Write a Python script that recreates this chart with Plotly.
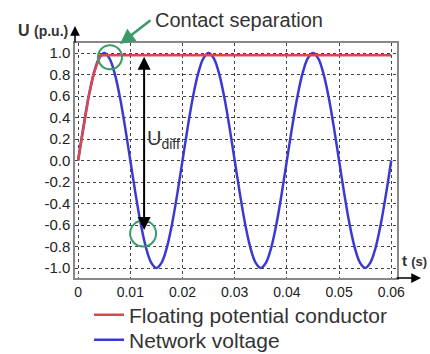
import plotly.graph_objects as go

# Network voltage samples (every 1 ms)
t_net = [i * 0.001 for i in range(61)]
u_net = [0.0, 0.31, 0.59, 0.81, 0.95, 1.0, 0.95, 0.81, 0.59, 0.31,
         0.0, -0.31, -0.59, -0.81, -0.95, -1.0, -0.95, -0.81, -0.59, -0.31,
         0.0, 0.31, 0.59, 0.81, 0.95, 1.0, 0.95, 0.81, 0.59, 0.31,
         0.0, -0.31, -0.59, -0.81, -0.95, -1.0, -0.95, -0.81, -0.59, -0.31,
         0.0, 0.31, 0.59, 0.81, 0.95, 1.0, 0.95, 0.81, 0.59, 0.31,
         0.0, -0.31, -0.59, -0.81, -0.95, -1.0, -0.95, -0.81, -0.59, -0.31,
         0.0]

# Floating potential conductor
t_float = [0.0, 0.001, 0.002, 0.003, 0.0036, 0.0042, 0.0050, 0.06]
u_float = [0.0, 0.31, 0.59, 0.81, 0.90, 0.975, 0.98, 0.98]

x_ticks = [0, 0.01, 0.02, 0.03, 0.04, 0.05, 0.06]
x_labels = ["0", "0.01", "0.02", "0.03", "0.04", "0.05", "0.06"]
y_ticks = [1.0, 0.8, 0.6, 0.4, 0.2, 0.0, -0.2, -0.4, -0.6, -0.8, -1.0]
y_labels = ["1.0", "0.8", "0.6", "0.4", "0.2", "0.0", "-0.2", "-0.4", "-0.6", "-0.8", "-1.0"]

W, H = 430, 354
L, R, T, B = 75, 397, 43, 278  # plot area pixel edges


def px(x):
    return (x - L) / (R - L)


def py(y):
    return (B - y) / (B - T)


fig = go.Figure()
fig.add_trace(go.Scatter(x=t_net, y=u_net, mode="lines", name="Network voltage", legend="legend2",
                         line=dict(color="#3a3ad0", width=2.5, shape="spline", smoothing=1.0)))
fig.add_trace(go.Scatter(x=t_float, y=u_float, mode="lines", name="Floating potential conductor",
                         legend="legend", line=dict(color="#d64a4e", width=2.5)))

font = "Liberation Sans, Arial, sans-serif"
leg_common = dict(xref="container", yref="container", xanchor="left", yanchor="middle",
                  font=dict(size=21, color="#333333"), bgcolor="rgba(0,0,0,0)", itemwidth=30)
fig.update_layout(
    width=W, height=H,
    margin=dict(l=L, r=W - R, t=T, b=H - B, autoexpand=False),
    paper_bgcolor="white", plot_bgcolor="white",
    font=dict(family=font, color="#333333"),
    showlegend=True,
    legend=dict(x=89 / W, y=1 - 315 / H, **leg_common),
    legend2=dict(x=89 / W, y=1 - 340 / H, **leg_common),
    xaxis=dict(range=[-0.0006, 0.0611], tickvals=x_ticks, ticktext=x_labels,
               showgrid=True, gridcolor="#444444", griddash="dot", gridwidth=1,
               showline=True, linecolor="#888888", linewidth=1.5, mirror=True,
               zeroline=False, ticks="", tickfont=dict(size=14, color="#222222")),
    yaxis=dict(range=[-1.093, 1.093], tickvals=y_ticks, ticktext=y_labels,
               showgrid=True, gridcolor="#444444", griddash="dot", gridwidth=1,
               showline=True, linecolor="#888888", linewidth=1.5, mirror=True,
               zeroline=False, ticks="", tickfont=dict(size=15, color="#222222")),
)

# green circles
for cx, cy, r in [(0.0061, 0.96, 12), (0.01245, -0.68, 13)]:
    fig.add_shape(type="circle", xref="x", yref="y", xsizemode="pixel", ysizemode="pixel",
                  xanchor=cx, yanchor=cy, x0=-r, x1=r, y0=-r, y1=r,
                  line=dict(color="#3a9a6a", width=2))

# U_diff double arrow
fig.add_annotation(x=0.01264, y=0.965, ax=0.01264, ay=-0.66, xref="x", yref="y",
                   axref="x", ayref="y", text="", showarrow=True, arrowhead=2,
                   arrowside="end+start", arrowsize=1.3, arrowwidth=2, arrowcolor="black")
fig.add_annotation(x=0.0129, y=0.20, xref="x", yref="y",
                   text="U<sub><span style='font-size:14px'>diff</span></sub>",
                   showarrow=False, xanchor="left", font=dict(size=20, color="#333333"))

# Contact separation label & green arrow
fig.add_annotation(x=px(120), y=py(44), xref="paper", yref="paper", ax=32, ay=-25, text="",
                   showarrow=True, arrowhead=2, arrowsize=1.2, arrowwidth=2.5, arrowcolor="#3a9a6a")
fig.add_annotation(x=px(153), y=py(20), xref="paper", yref="paper", text="Contact separation",
                   showarrow=False, xanchor="left", yanchor="middle",
                   font=dict(size=20, color="#333333"))

# axis arrows and axis labels
fig.add_annotation(x=0, y=py(26), xref="paper", yref="paper", ax=0, ay=18, text="",
                   showarrow=True, arrowhead=2, arrowsize=1.3, arrowwidth=1.5, arrowcolor="black")
fig.add_annotation(x=px(421), y=0, xref="paper", yref="paper", ax=-26, ay=0, text="",
                   showarrow=True, arrowhead=2, arrowsize=1.3, arrowwidth=1.5, arrowcolor="black")
fig.add_annotation(x=px(70), y=py(30), xref="paper", yref="paper",
                   text="<b>U</b> <b style='font-size:14px'>(p.u.)</b>", showarrow=False,
                   xanchor="right", yanchor="middle", font=dict(size=16, color="#333333"))
fig.add_annotation(x=px(429), y=py(260), xref="paper", yref="paper",
                   text="<b>t</b> <b style='font-size:13px'>(s)</b>", showarrow=False,
                   xanchor="right", yanchor="middle", font=dict(size=15, color="#333333"))

fig.write_html("out.html", config={"displayModeBar": False},
               post_script="document.body.style.margin='0';")
